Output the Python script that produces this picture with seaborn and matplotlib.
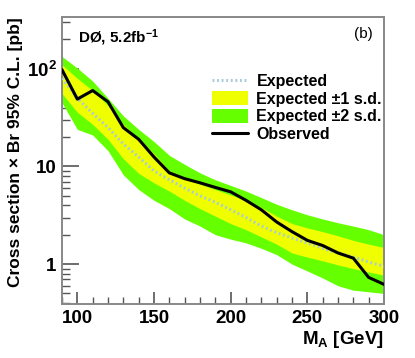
import numpy as np
import pandas as pd
import matplotlib
matplotlib.use("Agg")
import matplotlib.pyplot as plt
from matplotlib.ticker import FixedLocator, FixedFormatter, MultipleLocator, LogLocator, NullFormatter
from matplotlib.patches import Patch
from matplotlib.lines import Line2D
import seaborn as sns

mass = [90, 100, 110, 120, 130, 140, 150, 160, 170, 180, 190, 200,
        210, 220, 230, 240, 250, 260, 270, 280, 290, 300]
observed = [98, 49, 60, 46, 25, 19, 12.5, 8.6, 7.5, 6.8, 6.1, 5.5,
            4.5, 3.6, 2.7, 2.15, 1.75, 1.55, 1.3, 1.15, 0.73, 0.62]
expected = [80, 50, 35, 25, 17, 12.5, 9.0, 7.3, 6.0, 5.0, 4.3, 3.6,
            3.0, 2.45, 2.1, 1.85, 1.65, 1.45, 1.3, 1.18, 1.05, 0.95]
plus1 = [110, 80, 60, 42, 27, 19, 13.5, 9.0, 7.6, 6.6, 5.8, 5.1,
         4.5, 3.8, 3.1, 2.6, 2.35, 2.15, 1.95, 1.75, 1.6, 1.48]
minus1 = [56, 36, 27, 19, 12, 8.5, 6.8, 5.6, 4.5, 3.7, 3.1, 2.6,
          2.25, 1.9, 1.6, 1.3, 1.18, 1.08, 0.98, 0.9, 0.83, 0.77]
plus2 = [134, 102, 75, 50, 33, 24, 18, 13, 10.5, 8.6, 7.3, 6.4,
         5.6, 4.8, 4.1, 3.6, 3.2, 2.9, 2.65, 2.45, 2.25, 2.0]
minus2 = [45, 24, 21, 14.5, 8.2, 5.8, 4.5, 3.7, 2.9, 2.45, 2.0, 1.8,
          1.65, 1.45, 1.25, 1.0, 0.85, 0.72, 0.6, 0.54, 0.52, 0.5]

y_ticks = [1, 10, 100]
y_ticklabels = ["1", "10", r"10$^{\mathbf{2}}$"]
x_ticks = [100, 150, 200, 250, 300]

sns.set_style("ticks")
plt.rcParams["font.family"] = ["Liberation Sans", "DejaVu Sans"]
plt.rcParams["font.weight"] = "bold"
plt.rcParams["text.color"] = "black"
plt.rcParams["xtick.labelcolor"] = "black"
plt.rcParams["ytick.labelcolor"] = "black"
plt.rcParams["mathtext.fontset"] = "custom"
plt.rcParams["mathtext.rm"] = "Liberation Sans:bold"
plt.rcParams["mathtext.it"] = "Liberation Sans:bold"
plt.rcParams["mathtext.bf"] = "Liberation Sans:bold"
plt.rcParams["mathtext.default"] = "bf"

df = pd.DataFrame({"mass": mass, "observed": observed, "expected": expected,
                   "plus1": plus1, "minus1": minus1, "plus2": plus2, "minus2": minus2})

GREEN = "#66ff00"
YELLOW = "#f0ff00"
DOT = "#a9cad8"

fig = plt.figure(figsize=(4.15, 3.58), dpi=100)
ax = fig.add_axes([62/415, 1-304/358, (384-62)/415, (304-17)/358])

ax.fill_between(df["mass"], df["minus2"], df["plus2"], color=GREEN, lw=0, zorder=1)
ax.fill_between(df["mass"], df["minus1"], df["plus1"], color=YELLOW, lw=0, zorder=2)
sns.lineplot(data=df, x="mass", y="expected", ax=ax, color=DOT, lw=2.2,
             linestyle=(0, (0.6, 0.9)), zorder=3)
sns.lineplot(data=df, x="mass", y="observed", ax=ax, color="black", lw=2.2, zorder=4)

ax.set_yscale("log")
ax.set_xlim(90, 300)
ax.set_ylim(0.39, 340)

ax.yaxis.set_major_locator(FixedLocator(y_ticks))
ax.yaxis.set_major_formatter(FixedFormatter(y_ticklabels))
ax.yaxis.set_minor_locator(LogLocator(base=10, subs=np.arange(2, 10), numticks=20))
ax.yaxis.set_minor_formatter(NullFormatter())
ax.xaxis.set_major_locator(FixedLocator(x_ticks))
ax.xaxis.set_minor_locator(MultipleLocator(10))

ax.tick_params(which="major", direction="in", length=9, width=1.2, color="#555555",
               labelsize=13.5, pad=4, labelcolor="black")
ax.tick_params(which="minor", direction="in", length=5, width=1.0, color="#555555")
ax.tick_params(axis="y", which="major", length=12)
ax.tick_params(axis="y", which="minor", length=6)
for lab in ax.get_xticklabels() + ax.get_yticklabels():
    lab.set_fontweight("bold")
    lab.set_color("black")

for s in ax.spines.values():
    s.set_color("#888888")
    s.set_linewidth(1.4)

ax.set_xlabel("")
ax.set_ylabel("")
fig.text(384/415, 1-340/358, r"M$_{\mathbf{A}}$ [GeV]", ha="right", va="center",
         fontsize=13.5, fontweight="bold", color="black")
fig.text(16/415, 1-17/358, "Cross section × Br 95% C.L. [pb]", rotation=90,
         ha="center", va="top", fontsize=12.5, fontweight="bold", color="black")

ax.text(0.05, 0.965, r"DØ, 5.2fb$^{\mathbf{-1}}$", transform=ax.transAxes,
        ha="left", va="top", fontsize=11, fontweight="bold", color="black")
ax.text(0.965, 0.965, "(b)", transform=ax.transAxes, ha="right", va="top",
        fontsize=11, fontweight="normal", color="black")

handles = [Line2D([0], [0], color=DOT, lw=2.2, linestyle=(0, (0.6, 0.9))),
           Patch(facecolor=YELLOW, edgecolor="none"),
           Patch(facecolor=GREEN, edgecolor="none"),
           Line2D([0], [0], color="black", lw=2.2)]
labels = ["Expected", "Expected ±1 s.d.", "Expected ±2 s.d.", "Observed"]
leg = ax.legend(handles, labels, loc="upper left", bbox_to_anchor=(0.445, 0.825),
                frameon=False, fontsize=11.5, handlelength=2.3, handleheight=1.0,
                labelspacing=0.12, handletextpad=0.5, borderaxespad=0)
for t in leg.get_texts():
    t.set_fontweight("bold")
    t.set_color("black")

fig.savefig("out.png", dpi=100)
